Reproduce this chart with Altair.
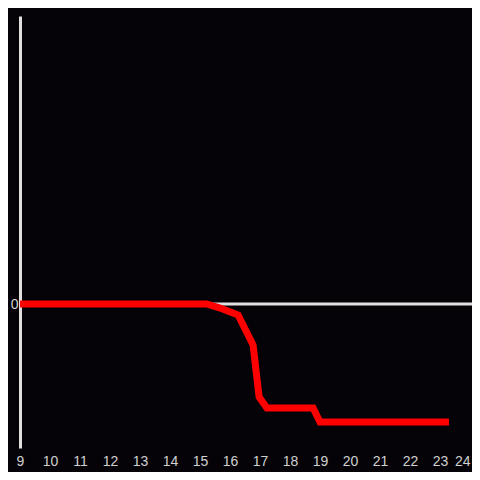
import altair as alt
import pandas as pd

hours = [9.0, 15.23, 15.67, 16.27, 16.77, 16.97, 17.23, 18.77, 19.0, 23.3]
values = [0.0, 0.0, -0.028, -0.076, -0.285, -0.646, -0.722, -0.722, -0.82, -0.82]
x_ticks = list(range(9, 25))

df = pd.DataFrame({"hour": hours, "value": values})
zero = pd.DataFrame({"y": [0]})

xs = alt.Scale(domain=[9, 24.067], nice=False, zero=False)
ys = alt.Scale(domain=[-1, 2], nice=False)

rule = alt.Chart(zero).mark_rule(color="#e0e0e0", strokeWidth=3).encode(
    y=alt.Y("y:Q", scale=ys)
)

line = alt.Chart(df).mark_line(color="#ff0000", strokeWidth=7, strokeCap="butt",
                                strokeJoin="miter", clip=True).encode(
    x=alt.X("hour:Q", scale=xs,
            axis=alt.Axis(values=x_ticks, title=None, domain=False, ticks=False,
                          grid=False, labelColor="#d0d0d0", labelFontSize=14,
                          labelFont="Liberation Sans", labelPadding=6,
                          labelAlign=alt.expr("datum.value == 24 ? 'right' : 'center'"),
                          labelFlush=False, labelOverlap=False, format="d")),
    y=alt.Y("value:Q", scale=ys,
            axis=alt.Axis(values=[0], title=None, domain=True, domainColor="#e0e0e0",
                          domainWidth=3, ticks=False, grid=False, format="d",
                          labelColor="#d0d0d0", labelFontSize=14, labelAlign="right",
                          labelFont="Liberation Sans", labelPadding=2)),
)

chart = (rule + line).properties(
    width=452, height=432,
    background="#050308",
    padding={"left": 12, "top": 8, "right": 0, "bottom": 24},
    autosize=alt.AutoSizeParams(type="none"),
).configure_view(stroke=None, fill="#050308")

chart.save("out.html", embed_options={"renderer": "svg", "actions": False})
